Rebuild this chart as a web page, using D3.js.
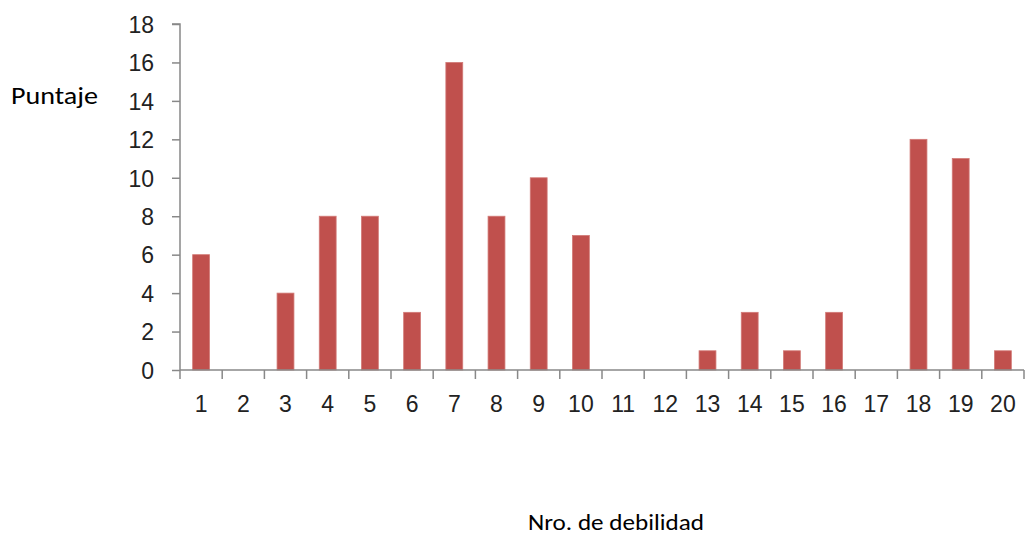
<!DOCTYPE html>
<html><head><meta charset="utf-8">
<script src="https://cdn.jsdelivr.net/npm/d3@7"></script>
<style>body{margin:0;background:#fff}svg{display:block}</style>
</head><body>
<svg id="c" width="1027" height="537"></svg>
<script>
const categories = ["1","2","3","4","5","6","7","8","9","10","11","12","13","14","15","16","17","18","19","20"];
const values = [6,0,4,8,8,3,16,8,10,7,0,0,1,3,1,3,0,12,11,1];
const yTicks = [0,2,4,6,8,10,12,14,16,18];

(function () {
const svg = d3.select("#c");
const mLeft = 180, mRight = 1024, mTop = 24, mBottom = 370;
const x = d3.scaleBand().domain(categories).range([mLeft, mRight]).paddingInner(0).paddingOuter(0);
const y = d3.scaleLinear().domain([0, 18]).range([mBottom, mTop]);
const axisColor = "#888";
const tickFont = "Liberation Sans, Arial, sans-serif";

// bars
const bw = x.bandwidth() * 0.4;
svg.append("g").selectAll("rect").data(values).join("rect")
  .attr("x", (d, i) => x(categories[i]) + x.bandwidth() / 2 - bw / 2)
  .attr("y", d => y(d))
  .attr("width", bw)
  .attr("height", d => y(0) - y(d))
  .attr("fill", "#C0504D")
  .attr("stroke", "#D27A77")
  .attr("stroke-width", 0.8);

// y axis
const ya = svg.append("g").attr("transform", `translate(${mLeft},0)`)
  .call(d3.axisLeft(y).tickValues(yTicks).tickSize(8).tickPadding(18));
ya.select(".domain").attr("stroke", axisColor).attr("stroke-width", 1.5).attr("d", `M-8,${mTop}H0V${mBottom}`);
ya.selectAll(".tick line").attr("stroke", axisColor).attr("stroke-width", 1.5);
ya.selectAll(".tick text").attr("font-family", tickFont).attr("font-size", 23).attr("fill", "#222").attr("dy", "0.36em");

// x axis
const xa = svg.append("g").attr("transform", `translate(0,${mBottom})`);
xa.append("line").attr("x1", mLeft).attr("x2", mRight).attr("y1", 0).attr("y2", 0)
  .attr("stroke", axisColor).attr("stroke-width", 1.5);
const boundaries = categories.map(c => x(c)).concat([mRight]);
xa.selectAll("line.tk").data(boundaries).join("line").attr("class", "tk")
  .attr("x1", d => d).attr("x2", d => d).attr("y1", 0).attr("y2", 9)
  .attr("stroke", axisColor).attr("stroke-width", 1.5);
xa.selectAll("text").data(categories).join("text")
  .attr("x", d => x(d) + x.bandwidth() / 2)
  .attr("y", 42)
  .attr("text-anchor", "middle")
  .attr("font-family", tickFont)
  .attr("font-size", 23).attr("fill", "#222")
  .text(d => d);

// titles
svg.append("text").attr("x", 11).attr("y", 104)
  .attr("font-family", "Carlito, Calibri, Lato, sans-serif").attr("font-size", 24).attr("fill", "#000")
  .attr("textLength", 87).attr("lengthAdjust", "spacingAndGlyphs")
  .text("Puntaje");
svg.append("text").attr("x", 528).attr("y", 530)
  .attr("font-family", "Carlito, Calibri, Lato, sans-serif").attr("font-size", 23).attr("fill", "#000")
  .attr("textLength", 176).attr("lengthAdjust", "spacingAndGlyphs")
  .text("Nro. de debilidad");
})();
</script>
</body></html>
